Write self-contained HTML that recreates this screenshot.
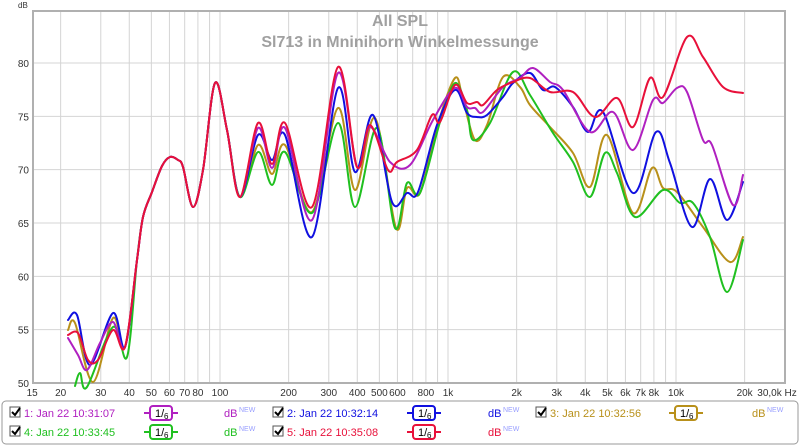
<!DOCTYPE html>
<html><head><meta charset="utf-8"><style>
body{margin:0;background:#fff;width:800px;height:447px;overflow:hidden;font-family:"Liberation Sans",sans-serif}
svg{position:absolute;left:0;top:0}
</style></head><body>
<svg id="s" width="800" height="447" xmlns="http://www.w3.org/2000/svg" font-family="Liberation Sans, sans-serif">
<g id="grid" stroke="#d4d4d4" stroke-width="1"></g>
<rect x="33" y="11" width="752" height="372" fill="none" stroke="#b0b0b0" stroke-width="2"/>
<text x="400" y="26" text-anchor="middle" font-size="16" font-weight="bold" fill="#a0a0a0">All SPL</text>
<text x="400" y="47" text-anchor="middle" font-size="16" font-weight="bold" fill="#a0a0a0">Sl713 in Mninihorn Winkelmessunge</text>
<text x="18" y="8" font-size="8" fill="#333">dB</text>
<g id="yl" font-size="10" fill="#333" text-anchor="end"></g>
<g id="xl" font-size="10" fill="#333" text-anchor="middle"></g>
<g id="curves" fill="none" stroke-width="2" stroke-linejoin="round" stroke-linecap="round"></g>
<rect x="2" y="401" width="796" height="43" rx="4" fill="none" stroke="#999" stroke-width="1"/>
<g id="leg" font-size="11"></g>
</svg>
<script>
var NS="http://www.w3.org/2000/svg";
function el(p,t,a,txt){var e=document.createElementNS(NS,t);for(var k in a)e.setAttribute(k,a[k]);if(txt!=null)e.textContent=txt;document.getElementById(p).appendChild(e);return e;}
function X(f){return 220+(Math.log10(f)-2)*228;}
function Y(d){return 383-(d-50)*10.667;}
var fs=[20,30,40,50,60,70,80,90,100,200,300,400,500,600,700,800,900,1000,2000,3000,4000,5000,6000,7000,8000,9000,10000,20000];
fs.forEach(function(f){var x=X(f);el('grid','line',{x1:x,x2:x,y1:11,y2:383});});
[55,60,65,70,75,80].forEach(function(d){el('grid','line',{x1:33,x2:785,y1:Y(d),y2:Y(d)});el('yl','text',{x:29,y:Y(d)+4},d);});
el('yl','text',{x:29,y:387},50);
var xl=[[15,'15'],[20,'20'],[30,'30'],[40,'40'],[50,'50'],[60,'60'],[70,'70'],[80,'80'],[100,'100'],[200,'200'],[300,'300'],[400,'400'],[500,'500'],[600,'600'],[800,'800'],[1000,'1k'],[2000,'2k'],[3000,'3k'],[4000,'4k'],[5000,'5k'],[6000,'6k'],[7000,'7k'],[8000,'8k'],[10000,'10k'],[20000,'20k']];
xl.forEach(function(a){el('xl','text',{x:X(a[0]),y:396},a[1]);});
el('xl','text',{x:777,y:396},'30,0k Hz');
var common=[[137,260],[143,217],[152,192],[162,166],[170,157],[178,160],[183,167],[193,207],[203,170],[215,83],[227,130],[240,197]];
var C={
blue:{c:'#1010e0',p:[[68,320],[77,315],[90,365],[113,313],[125,347]].concat(common,[[258,135],[272,160],[285,135],[312,237],[338,88],[355,172],[373,115],[392,202],[407,193],[418,192],[437,125],[455,90],[467,113],[477,117],[487,115],[503,97],[513,83],[530,73],[543,90],[555,87],[573,107],[588,132],[603,112],[633,193],[656,132],[670,163],[692,227],[710,179],[727,220],[743,182]])},
gold:{c:'#b8901a',p:[[68,330],[75,323],[93,382],[113,318],[125,347]].concat(common,[[258,145],[272,174],[285,145],[312,212],[338,108],[355,190],[375,118],[396,228],[407,188],[420,193],[437,127],[455,78],[463,100],[475,140],[487,125],[503,77],[520,87],[530,105],[550,127],[573,153],[590,187],[607,135],[633,213],[652,168],[663,188],[677,192],[703,227],[730,262],[743,237]])},
green:{c:'#20c020',p:[[75,386],[80,373],[87,387],[113,327],[127,357]].concat(common,[[258,152],[272,185],[285,152],[312,213],[338,123],[355,207],[377,128],[395,228],[407,183],[420,193],[440,122],[455,83],[467,110],[473,140],[490,123],[513,72],[530,95],[553,133],[573,162],[590,197],[605,153],[617,173],[635,217],[663,190],[680,203],[693,203],[710,237],[727,292],[743,240]])},
mag:{c:'#b020c0',p:[[68,338],[78,355],[87,370],[100,343],[113,322],[125,347]].concat(common,[[258,128],[272,168],[285,128],[312,220],[338,73],[357,167],[370,127],[390,162],[410,165],[433,120],[455,88],[467,107],[475,108],[483,112],[503,87],[520,78],[533,68],[550,82],[563,90],[590,132],[613,112],[633,150],[653,100],[663,103],[677,88],[687,92],[703,140],[712,145],[733,205],[743,175]])},
red:{c:'#e8103a',p:[[68,335],[78,333],[88,360],[98,360],[113,330],[125,347]].concat(common,[[258,123],[272,164],[285,123],[312,207],[338,67],[357,167],[370,125],[388,170],[397,162],[417,150],[432,115],[440,122],[455,85],[467,103],[477,102],[483,105],[497,90],[513,82],[530,78],[550,92],[573,92],[595,117],[617,98],[633,127],[650,78],[663,97],[687,37],[703,57],[723,87],[743,93]])}
};
function path(p){var d='M'+p[0][0]+','+p[0][1];for(var i=0;i<p.length-1;i++){var p0=p[i-1]||p[i],p1=p[i],p2=p[i+1],p3=p[i+2]||p2;d+=' C'+(p1[0]+(p2[0]-p0[0])/6)+','+(p1[1]+(p2[1]-p0[1])/6)+' '+(p2[0]-(p3[0]-p1[0])/6)+','+(p2[1]-(p3[1]-p1[1])/6)+' '+p2[0]+','+p2[1];}return d;}
['gold','green','blue','mag','red'].forEach(function(k){el('curves','path',{d:path(C[k].p),stroke:C[k].c});});
var L=[[10,413,'#b020c0','1: Jan 22 10:31:07',147,224],[273,413,'#1010e0','2: Jan 22 10:32:14',410,488],[536,413,'#b8901a','3: Jan 22 10:32:56',672,752],[10,432,'#20c020','4: Jan 22 10:33:45',147,224],[273,432,'#e8103a','5: Jan 22 10:35:08',410,488]];
L.forEach(function(a){var x=a[0],y=a[1];
el('leg','rect',{x:x,y:y-6,width:10,height:10,fill:'#fff',stroke:'#555'});
el('leg','path',{d:'M'+(x+2)+','+(y-1)+' l3,3 l5,-7',stroke:'#000','stroke-width':2,fill:'none'});
el('leg','text',{x:x+14,y:y+4,fill:a[2]},a[3]);
var ix=a[4];el('leg','line',{x1:ix-3,x2:ix+31,y1:y,y2:y,stroke:a[2],'stroke-width':2});
el('leg','rect',{x:ix+3,y:y-7,width:22,height:14,rx:3,fill:'#fff',stroke:a[2],'stroke-width':2});
el('leg','text',{x:ix+8,y:y+4,fill:'#000','font-size':11},'1/');
el('leg','text',{x:ix+17,y:y+6,fill:'#000','font-size':8},'6');
el('leg','text',{x:a[5],y:y+4,fill:a[2]},'dB');
el('leg','text',{x:a[5]+15,y:y-1,fill:'#9aa0ff','font-size':7},'NEW');
});
</script>
</body></html>
